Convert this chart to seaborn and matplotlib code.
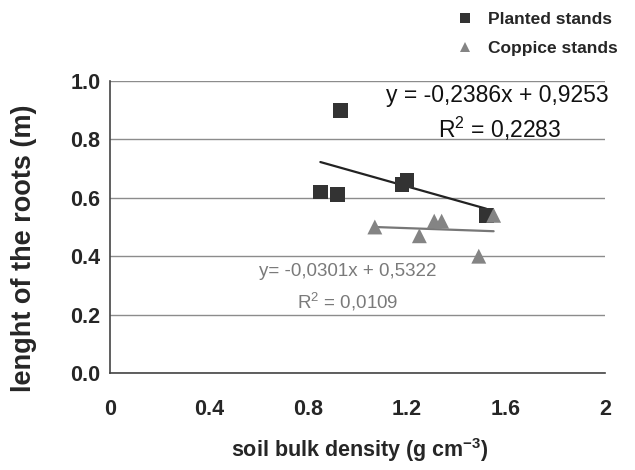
import numpy as np
import pandas as pd
import seaborn as sns
import matplotlib
matplotlib.use("Agg")
import matplotlib.pyplot as plt

# ---- data ----
planted_x = [0.93, 0.85, 0.92, 1.18, 1.20, 1.52]
planted_y = [0.90, 0.62, 0.61, 0.645, 0.66, 0.54]
coppice_x = [1.07, 1.25, 1.31, 1.34, 1.49, 1.55]
coppice_y = [0.50, 0.47, 0.52, 0.52, 0.40, 0.54]

# trendline coefficients shown in the chart
planted_fit = (-0.2386, 0.9253)
coppice_fit = (-0.0301, 0.5322)
planted_eq = "y = -0,2386x + 0,9253"
planted_r2 = "R$^2$ = 0,2283"
coppice_eq = "y= -0,0301x + 0,5322"
coppice_r2 = "R$^2$ = 0,0109"

series_names = ["Planted stands", "Coppice stands"]
x_ticks = [0, 0.4, 0.8, 1.2, 1.6, 2]
x_tick_labels = ["0", "0.4", "0.8", "1.2", "1.6", "2"]
y_ticks = [0.0, 0.2, 0.4, 0.6, 0.8, 1.0]
y_tick_labels = ["0.0", "0.2", "0.4", "0.6", "0.8", "1.0"]

df = pd.DataFrame({
    "x": planted_x + coppice_x,
    "y": planted_y + coppice_y,
    "group": [series_names[0]] * len(planted_x) + [series_names[1]] * len(coppice_x),
})

sns.set_style("white")
plt.rcParams["font.family"] = ["Liberation Sans", "DejaVu Sans"]
plt.rcParams["mathtext.fontset"] = "custom"
plt.rcParams["mathtext.rm"] = "Liberation Sans"
plt.rcParams["mathtext.bf"] = "Liberation Sans:bold"

fig = plt.figure(figsize=(6.35, 4.7), dpi=100)
ax = fig.add_axes([110 / 635, 1 - 373 / 470, 495 / 635, 292 / 470])

dark = "#333333"
grey = "#848484"

sns.scatterplot(data=df, x="x", y="y", hue="group", style="group",
                markers={series_names[0]: "s", series_names[1]: "^"},
                palette={series_names[0]: dark, series_names[1]: grey},
                s=115, linewidth=0, ax=ax, legend=True, zorder=3)

# trend lines over each series' data range
for xs, (m, b), col, lw in [(planted_x, planted_fit, "#222222", 1.6),
                            (coppice_x, coppice_fit, "#777777", 1.6)]:
    xx = np.array([min(xs), max(xs)])
    sns.lineplot(x=xx, y=m * xx + b, color=col, lw=lw, ax=ax, zorder=2)

ax.set_xlim(0, 2)
ax.set_ylim(0, 1.0)
ax.set_xticks(x_ticks)
ax.set_xticklabels(x_tick_labels, fontsize=15.5, fontweight="bold")
ax.set_yticks(y_ticks)
ax.set_yticklabels(y_tick_labels, fontsize=15.5, fontweight="bold")
ax.tick_params(axis="x", direction="in", length=4, width=1, color="#444444", pad=19)
ax.tick_params(axis="y", length=0, pad=7)

ax.yaxis.grid(True, color="#8c8c8c", lw=1)
ax.xaxis.grid(False)
ax.set_axisbelow(True)
for s in ["top", "right"]:
    ax.spines[s].set_visible(False)
for s in ["left", "bottom"]:
    ax.spines[s].set_color("#444444")
    ax.spines[s].set_linewidth(1.2)

ax.set_xlabel("soil bulk density (g cm$^{\\mathbf{-3}}$)", fontsize=15.5, fontweight="bold")
ax.set_ylabel("lenght of the roots (m)", fontsize=19.5, fontweight="bold")
ax.xaxis.set_label_coords(0.505, -0.215)
ax.yaxis.set_label_coords(-0.148, 0.428)

ax.text(1.565, 0.952, planted_eq, fontsize=16.5, ha="center", va="center", color="#111111")
ax.text(1.575, 0.836, planted_r2, fontsize=16.5, ha="center", va="center", color="#111111")
ax.text(0.96, 0.346, coppice_eq, fontsize=13.5, ha="center", va="center", color="#7a7a7a")
ax.text(0.96, 0.243, coppice_r2, fontsize=13.5, ha="center", va="center", color="#7a7a7a")

handles, labels = ax.get_legend_handles_labels()
ax.legend(handles=handles, labels=labels, loc="upper left",
          bbox_to_anchor=(446 / 635, 1 - 3 / 470), bbox_transform=fig.transFigure,
          frameon=False, prop={"weight": "bold", "size": 12.5},
          handletextpad=0.7, handlelength=1.2, labelspacing=0.8, borderpad=0,
          markerscale=0.7)

fig.savefig("out.png", dpi=100)
